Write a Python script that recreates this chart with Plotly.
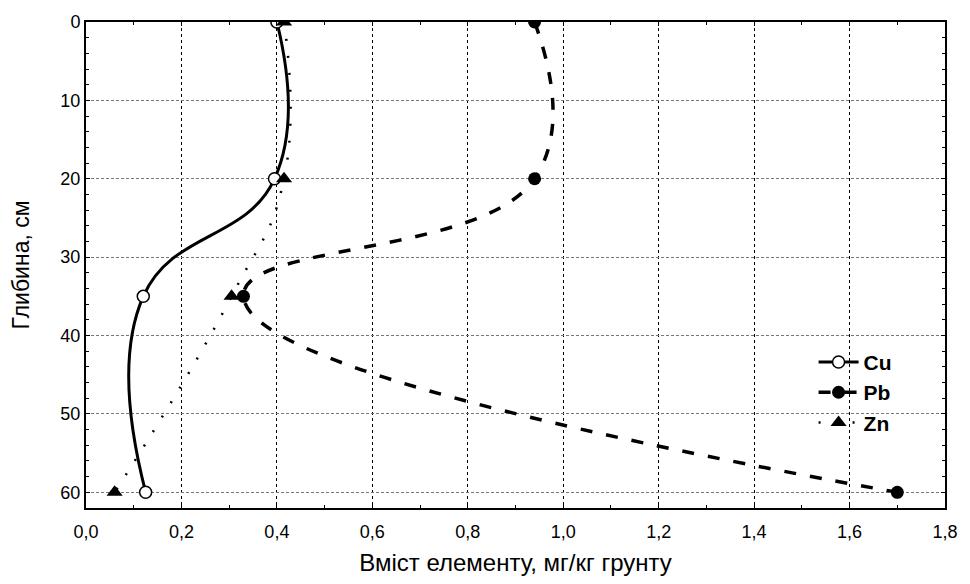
import plotly.graph_objects as go

# Depth of soil layers, cm
depth = [0, 20, 35, 60]

# Element content, mg/kg of soil
cu = [0.40, 0.395, 0.12, 0.125]
pb = [0.94, 0.94, 0.33, 1.70]
zn = [0.415, 0.415, 0.305, 0.06]

x_ticks = [0.0, 0.2, 0.4, 0.6, 0.8, 1.0, 1.2, 1.4, 1.6, 1.8]
y_ticks = [0, 10, 20, 30, 40, 50, 60]

FONT = "Liberation Sans, Arial, sans-serif"

fig = go.Figure()

fig.add_trace(go.Scatter(
    x=cu, y=depth, name="Cu", mode="lines+markers",
    line=dict(color="black", width=3, shape="spline", smoothing=1.3),
    marker=dict(symbol="circle", size=12, color="white",
                line=dict(color="black", width=1.5)),
    cliponaxis=True,
))
fig.add_trace(go.Scatter(
    x=pb, y=depth, name="Pb", mode="lines+markers",
    line=dict(color="black", width=3.5, shape="spline", smoothing=1.3,
              dash="12px,14px"),
    marker=dict(symbol="circle", size=13, color="black"),
    cliponaxis=True,
))
fig.add_trace(go.Scatter(
    x=zn, y=depth, name="Zn", mode="lines+markers",
    line=dict(color="black", width=2.5, shape="spline", smoothing=1.3,
              dash="2px,15px"),
    marker=dict(symbol="triangle-up", size=14, color="black"),
    cliponaxis=True,
))

axis_common = dict(
    showline=True, linecolor="black", linewidth=2, mirror="allticks",
    ticks="inside", ticklen=4, tickwidth=1, tickcolor="black",
    tickfont=dict(family=FONT, size=18, color="black"),
    zeroline=False,
)

fig.update_xaxes(
    range=[0, 1.8], tickvals=x_ticks, tickformat=".1f",
    showgrid=True, gridcolor="black", gridwidth=1, griddash="dot",
    minor=dict(dtick=0.1, ticks="inside", ticklen=3, tickcolor="black",
               showgrid=False),
    ticklabelstandoff=6,
    title=dict(text="Вміст елементу, мг/кг грунту",
               font=dict(family=FONT, size=24, color="black"), standoff=14),
    **axis_common,
)
fig.update_yaxes(
    range=[62, 0], tickvals=y_ticks,
    showgrid=True, gridcolor="#777777", gridwidth=1, griddash="3px,2px",
    minor=dict(dtick=2, ticks="inside", ticklen=3, tickcolor="black",
               showgrid=False),
    title=dict(text="Глибина, см",
               font=dict(family=FONT, size=23, color="black"), standoff=24),
    **axis_common,
)

fig.update_layout(
    width=970, height=584,
    margin=dict(l=86, r=15, t=18, b=76),
    paper_bgcolor="white", plot_bgcolor="white",
    separators=", ",
    showlegend=True,
    legend=dict(
        x=0.847, y=0.342, xanchor="left", yanchor="top",
        bgcolor="rgba(0,0,0,0)", borderwidth=0,
        font=dict(family=FONT, size=21, color="black", weight="bold"),
        tracegroupgap=0, itemwidth=40,
    ),
)

fig.write_html("out.html")
